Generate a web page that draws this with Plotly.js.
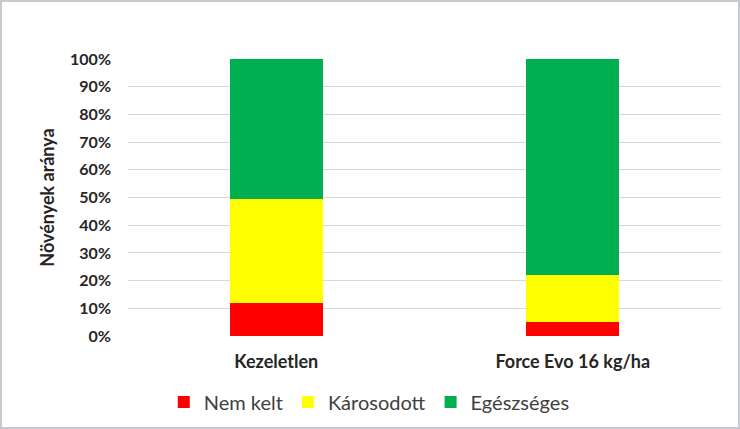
<!DOCTYPE html>
<html>
<head>
<meta charset="utf-8">
<script src="https://cdn.plot.ly/plotly-3.0.1.min.js"></script>
<style>
  body { margin: 0; background: #fff; }
  #frame { width: 740px; height: 429px; box-sizing: border-box; border: 2px solid #c6cacf; }
</style>
</head>
<body>
<div id="frame"><div id="plot"></div></div>
<script>
const categories = [ 'Kezeletlen', 'Force Evo 16 kg/ha' ];
const nemKelt = [ 11.8, 5.1 ];
const karosodott = [ 37.5, 16.9 ];
const egeszseges = [ 50.7, 78.0 ];

const seriesList = [
    { name: 'Nem kelt', y: nemKelt, color: '#ff0000' },
    { name: 'Károsodott', y: karosodott, color: '#ffff00' },
    { name: 'Egészséges', y: egeszseges, color: '#00b050' },
];

const font = 'Lato, "Open Sans", sans-serif';

const data = seriesList.map(({ name, y, color }) => ({
    type: 'bar',
    name,
    x: categories,
    y,
    marker: { color, line: { width: 0 } },
    hoverinfo: 'name+y',
}));

const layout = {
    width: 736,
    height: 425,
    barmode: 'stack',
    bargap: 0.686,
    margin: { l: 126, r: 17, t: 57, b: 91 },
    paper_bgcolor: '#fff',
    plot_bgcolor: '#fff',
    font: { family: font, color: '#404040' },
    showlegend: true,
    legend: {
        orientation: 'h',
        xref: 'container',
        yref: 'container',
        x: 0.499,
        xanchor: 'center',
        y: 0.059,
        yanchor: 'middle',
        font: { family: font, size: 20, color: '#404040' },
        itemwidth: 30,
        traceorder: 'normal',
    },
    xaxis: {
        type: 'category',
        showgrid: false,
        showline: false,
        zeroline: false,
        ticks: '',
        ticklabelstandoff: 13,
        tickfont: { family: font, size: 18, color: '#262626', weight: 'bold' },
    },
    yaxis: {
        range: [ 0, 100 ],
        dtick: 10,
        ticksuffix: '%',
        showgrid: true,
        gridcolor: '#d9d9d9',
        gridwidth: 1,
        zeroline: false,
        showline: false,
        ticks: '',
        ticklabelstandoff: 16,
        tickfont: { family: font, size: 16, color: '#262626', weight: 'bold' },
        title: { text: 'Növények aránya', standoff: 10, font: { family: font, size: 18, color: '#262626', weight: 'bold' } },
    },
};

Plotly.newPlot('plot', data, layout, { displayModeBar: false, staticPlot: true });
</script>
</body>
</html>
